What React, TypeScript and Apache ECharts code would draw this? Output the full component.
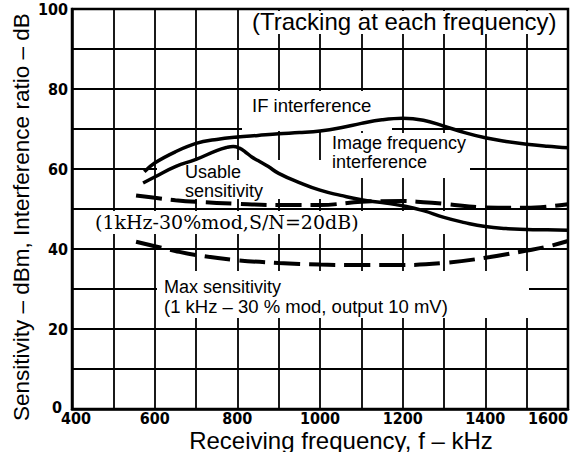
import React, { useEffect, useRef } from "react";
import * as echarts from "echarts";

// IF interference (solid, upper)
const ifFreq = [575, 600, 650, 700, 750, 800, 850, 900, 950, 1000, 1050, 1100, 1150, 1200, 1250, 1300, 1350, 1400, 1450, 1500, 1550, 1600];
const ifVal = [59.3, 61.5, 64.3, 66.4, 67.4, 68.0, 68.4, 68.8, 69.1, 69.5, 70.3, 71.4, 72.3, 72.7, 72.2, 70.7, 69.1, 67.8, 66.9, 66.2, 65.7, 65.3];

// Image frequency interference (solid, lower)
const imgFreq = [572, 600, 650, 700, 750, 775, 790, 805, 820, 835, 850, 875, 900, 950, 1000, 1050, 1100, 1150, 1200, 1250, 1300, 1350, 1400, 1450, 1500, 1550, 1600];
const imgVal = [56.5, 58.0, 60.6, 62.4, 64.6, 65.4, 65.6, 65.2, 64.2, 63.0, 62.1, 60.6, 58.9, 56.6, 54.7, 53.4, 52.3, 51.6, 50.8, 49.6, 47.9, 46.6, 45.6, 45.1, 44.9, 44.8, 44.7];

// Usable sensitivity (dashed, upper)
const usableFreq = [555, 600, 650, 700, 800, 900, 1000, 1100, 1200, 1250, 1300, 1400, 1500, 1600];
const usableVal = [53.4, 52.8, 52.2, 51.8, 51.3, 51.0, 51.0, 51.8, 52.0, 51.7, 51.3, 50.4, 50.3, 51.2];

// Max sensitivity (dashed, lower)
const maxFreq = [555, 600, 650, 700, 800, 900, 1000, 1100, 1200, 1300, 1400, 1500, 1550, 1600];
const maxVal = [41.8, 40.7, 39.5, 38.5, 37.2, 36.5, 36.1, 36.0, 36.0, 36.5, 37.8, 39.6, 40.6, 42.0];

const yAxisTitle = "Sensitivity – dBm, Interference ratio – dB";
const xAxisTitle = "Receiving frequency, f – kHz";
const chartNote = "(Tracking at each frequency)";

const pairs = (xs: number[], ys: number[]) => xs.map((x, i) => [x, ys[i]]);

const tickFont = "'Liberation Sans Narrow', 'DejaVu Sans Condensed', 'Liberation Sans', sans-serif";
const sans = "'Liberation Sans', Arial, sans-serif";

function txt(text: string, x: number, y: number, size: number, family = sans, extra: any = {}) {
  const { align, ...rest } = extra;
  return {
    type: "text",
    x,
    y,
    z: 5,
    ...rest,
    style: {
      text,
      fill: "#000",
      font: `${size}px ${family}`,
      align: align || "left",
      verticalAlign: "middle",
      textAlign: align || "left",
      textVerticalAlign: "middle",
    },
  };
}

function whiteBox(x1: number, y1: number, x2: number, y2: number) {
  return {
    type: "rect",
    z: 1,
    shape: { x: x1, y: y1, width: x2 - x1, height: y2 - y1 },
    style: { fill: "#fff" },
  };
}

export default function App() {
  const ref = useRef<HTMLDivElement>(null);
  useEffect(() => {
    if (!ref.current) return;
    const chart = echarts.init(ref.current, undefined, { renderer: "svg" });
    const solid = { color: "#000", width: 3.5 };
    const dashed = { color: "#000", width: 4, type: [26, 9] as any };
    const tickStyle = {
      fontFamily: tickFont,
      fontWeight: "bold",
      fontSize: 16,
      color: "#000",
    };
    chart.setOption({
      animation: false,
      backgroundColor: "#fff",
      grid: {
        left: 72,
        right: 7,
        top: 9,
        bottom: 43,
        show: true,
        borderColor: "#000",
        borderWidth: 2.5,
      },
      xAxis: {
        type: "value",
        min: 400,
        max: 1600,
        interval: 100,
        axisLine: { show: true, lineStyle: { color: "#000", width: 2.5 } },
        axisTick: { show: false },
        splitLine: { show: true, lineStyle: { color: "#000", width: 1.8 } },
        axisLabel: {
          formatter: (v: number) => (v === 400 ? "{f|400}" : v % 200 === 0 ? String(v) : ""),
          ...tickStyle,
          margin: 1,
          alignMaxLabel: "right",
          rich: { f: { ...tickStyle, padding: [0, 0, 0, 8] } },
        },
      },
      yAxis: {
        type: "value",
        min: 0,
        max: 100,
        interval: 10,
        axisLine: { show: true, lineStyle: { color: "#000", width: 2.5 } },
        axisTick: { show: false },
        splitLine: { show: true, lineStyle: { color: "#000", width: 1.8 } },
        axisLabel: {
          formatter: (v: number) => (v === 0 ? "{z|0}" : v % 20 === 0 ? String(v) : ""),
          ...tickStyle,
          margin: 4,
          rich: { z: { ...tickStyle, padding: [0, 6, 4, 0] } },
        },
      },
      series: [
        { type: "line", data: pairs(ifFreq, ifVal), showSymbol: false, smooth: 0.4, lineStyle: solid, z: 3 },
        { type: "line", data: pairs(imgFreq, imgVal), showSymbol: false, smooth: 0.5, lineStyle: solid, z: 3 },
        { type: "line", data: pairs(usableFreq, usableVal), showSymbol: false, smooth: 0.4, lineStyle: dashed, z: 3 },
        { type: "line", data: pairs(maxFreq, maxVal), showSymbol: false, smooth: 0.4, lineStyle: dashed, z: 3 },
      ],
      graphic: [
        whiteBox(245, 11, 566, 34),
        whiteBox(242, 91, 392, 131),
        whiteBox(328, 133, 470, 178),
        whiteBox(157, 160, 330, 199),
        whiteBox(76, 211, 458, 234),
        whiteBox(157, 271, 529, 318),
        txt(chartNote, 252, 21, 24),
        txt("IF interference", 252, 105, 18.5),
        txt("Image frequency", 332, 143, 18),
        txt("interference", 332, 161.5, 18),
        txt("Usable", 185, 172, 18),
        txt("sensitivity", 185, 190.5, 18),
        txt("(1kHz-30%mod,S/N=20dB)", 95, 222, 19, "'DejaVu Serif', serif"),
        txt("Max sensitivity", 164, 287, 18),
        txt("(1 kHz – 30 % mod, output 10 mV)", 164, 306, 18.5),
        txt(xAxisTitle, 341, 440, 24, sans, { align: "center" }),
        txt(yAxisTitle, 21, 421, 22.5, sans, { rotation: Math.PI / 2 }),
      ],
    });
    return () => chart.dispose();
  }, []);
  return (
    <div
      ref={ref}
      style={{ position: "fixed", left: 0, top: 0, width: 575, height: 452, background: "#fff" }}
    />
  );
}
